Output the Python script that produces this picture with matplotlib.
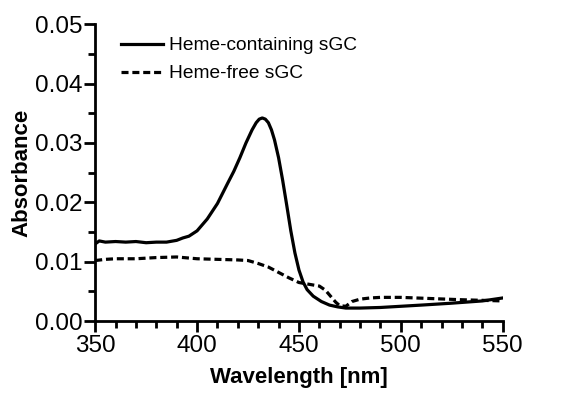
import matplotlib.pyplot as plt
from matplotlib.ticker import MultipleLocator

plt.rcParams['font.family'] = ['Liberation Sans', 'DejaVu Sans']

# absorbance spectra
wl_heme = [350, 352, 355, 360, 365, 370, 375, 380, 385, 390, 393, 396, 400, 405, 410,
           415, 418, 421, 424, 427, 429, 430.5, 432, 433.5, 435, 436.5, 438, 440, 442,
           444, 446, 448, 450, 452, 454, 457, 461, 465, 469, 473, 480, 490, 500, 510,
           524, 540, 550]
abs_heme = [0.0130, 0.0135, 0.0133, 0.0134, 0.0133, 0.0134, 0.0132, 0.0133, 0.0133, 0.0136,
            0.0140, 0.0143, 0.0152, 0.0172, 0.0198, 0.0232, 0.0252, 0.0275, 0.0300, 0.0322,
            0.0334, 0.0340, 0.0342, 0.0340, 0.0334, 0.0322, 0.0305, 0.0275, 0.0237,
            0.0195, 0.0152, 0.0115, 0.0086, 0.0066, 0.0053, 0.0042, 0.0033, 0.0027,
            0.0024, 0.0022, 0.0022, 0.0023, 0.0025, 0.0027, 0.0030, 0.0034, 0.0039]

wl_free = [350, 355, 360, 370, 380, 390, 400, 410, 420, 425, 430, 435, 440, 445, 450,
           455, 460, 463, 466, 468, 470, 473, 476, 480, 485, 490, 500, 515, 530, 550]
abs_free = [0.0102, 0.0104, 0.0105, 0.0105, 0.0107, 0.0108, 0.0105, 0.0104, 0.0103, 0.0102,
            0.0097, 0.0091, 0.0082, 0.0073, 0.0065, 0.0062, 0.0059, 0.0052, 0.0040, 0.0032,
            0.0026, 0.0025, 0.0033, 0.0037, 0.0039, 0.0040, 0.0040, 0.0038, 0.0036, 0.0034]

fig = plt.figure(figsize=(5.7, 3.95), dpi=100)
ax = fig.add_axes([0.167, 0.187, 0.715, 0.752])

ax.plot(wl_heme, abs_heme, color='black', lw=2.3, label='Heme-containing sGC')
ax.plot(wl_free, abs_free, color='black', lw=2.3, ls=(0, (2.2, 1.2)), label='Heme-free sGC')

ax.set_xlim(350, 550)
ax.set_ylim(0, 0.05)
ax.xaxis.set_major_locator(MultipleLocator(50))
ax.xaxis.set_minor_locator(MultipleLocator(10))
ax.yaxis.set_major_locator(MultipleLocator(0.01))
ax.yaxis.set_minor_locator(MultipleLocator(0.005))
ax.yaxis.set_major_formatter(plt.FuncFormatter(lambda v, p: '%.2f' % v))

for s in ['top', 'right']:
    ax.spines[s].set_visible(False)
for s in ['left', 'bottom']:
    ax.spines[s].set_linewidth(2)
ax.tick_params(which='major', length=8, width=2, labelsize=17.5, pad=2)
ax.tick_params(axis='y', which='major', pad=1)
ax.tick_params(which='minor', length=5, width=2)

ax.set_xlabel('Wavelength [nm]', fontsize=16, fontweight='bold', labelpad=7)
ax.set_ylabel('Absorbance', fontsize=16, fontweight='bold', labelpad=2)

ax.legend(loc='upper left', bbox_to_anchor=(0.02, 1.015), frameon=False, fontsize=13.8,
          handlelength=2.2, handletextpad=0.3, labelspacing=0.55)

fig.savefig('out.png')
